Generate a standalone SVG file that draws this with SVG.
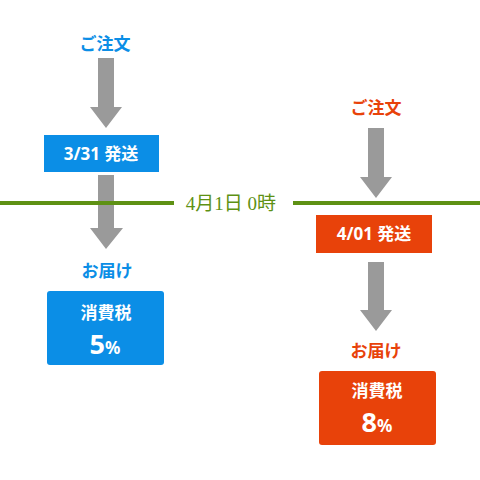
<svg xmlns="http://www.w3.org/2000/svg" width="480" height="480" viewBox="0 0 480 480">
<style>
.lbl{font-family:"Noto Sans","Noto Sans CJK JP",sans-serif;font-weight:bold;font-size:17px;text-anchor:middle}
.blue{fill:#0b8ee6}
.red{fill:#e8420a}
.wt{fill:#ffffff;font-family:"Noto Sans","Noto Sans CJK JP",sans-serif;font-weight:bold;text-anchor:middle}
.arr{fill:#9a9a9a}
.tl{stroke:#5e9114;stroke-width:4}
</style>
<defs>
<path id="arrow" d="M-8,0 H8 V49 H16 L0,70 L-16,49 H-8 Z"/>
</defs>
<g id="connectors">
<use href="#arrow" class="arr" x="106" y="58"/>
<path class="arr" d="M98,175 H114 V228 H123 L106,249 L90,228 H98 Z"/>
<use href="#arrow" class="arr" x="376" y="128"/>
<path class="arr" d="M368,262 H384 V310 H392 L376,331 L360,310 H368 Z"/>
</g>
<g id="timeline">
<line class="tl" x1="0" y1="203" x2="174" y2="203"/>
<line class="tl" x1="293" y1="203" x2="480" y2="203"/>
<text x="231" y="210" text-anchor="middle" font-family="Liberation Serif,Noto Sans CJK JP,serif" font-size="19" fill="#5e9114">4月1日 0時</text>
</g>
<g id="order-left"><text class="lbl blue" x="105" y="50">ご注文</text></g>
<g id="ship-left">
<rect x="44" y="135" width="115" height="37" class="blue"/>
<text class="wt" x="101" y="160" font-size="17">3/31 発送</text>
</g>
<g id="deliver-left"><text class="lbl blue" x="107" y="277">お届け</text></g>
<g id="tax-left">
<rect x="47" y="291" width="117" height="74" rx="3" class="blue"/>
<text class="wt" x="106" y="319" font-size="17">消費税</text>
<text class="wt" x="105" y="354"><tspan font-size="27">5</tspan><tspan font-size="17">%</tspan></text>
</g>
<g id="order-right"><text class="lbl red" x="376" y="114">ご注文</text></g>
<g id="ship-right">
<rect x="316" y="215" width="116" height="38" class="red"/>
<text class="wt" x="374" y="240" font-size="17">4/01 発送</text>
</g>
<g id="deliver-right"><text class="lbl red" x="376" y="357">お届け</text></g>
<g id="tax-right">
<rect x="319" y="371" width="117" height="74" rx="3" class="red"/>
<text class="wt" x="377" y="397" font-size="17">消費税</text>
<text class="wt" x="377" y="432"><tspan font-size="27">8</tspan><tspan font-size="17">%</tspan></text>
</g>
</svg>
